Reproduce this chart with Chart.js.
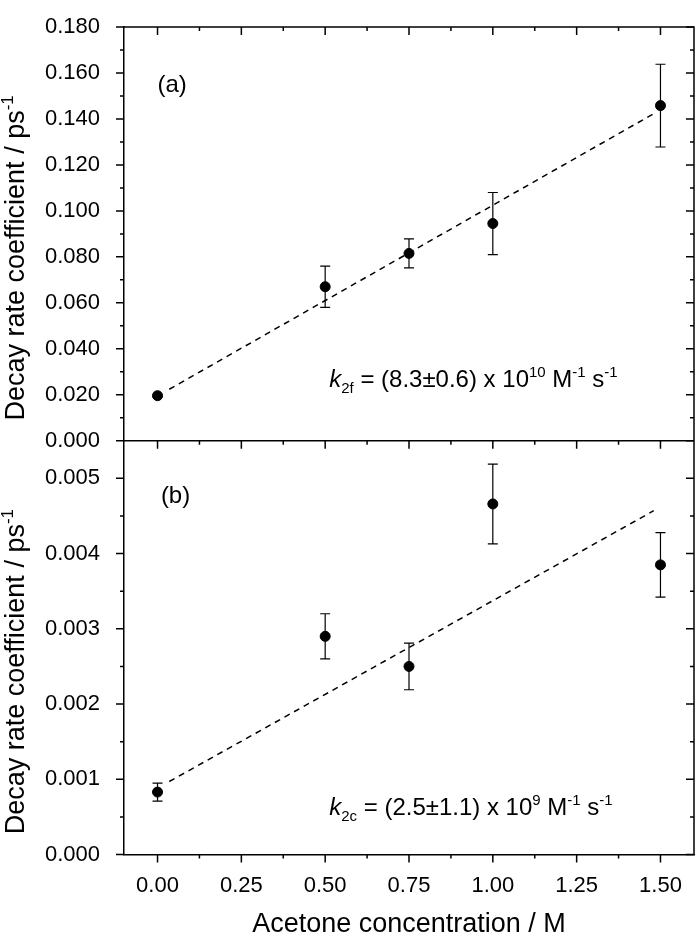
<!DOCTYPE html>
<html>
<head>
<meta charset="utf-8">
<script src="https://cdn.jsdelivr.net/npm/chart.js@4.4.1/dist/chart.umd.min.js"></script>
<style>
html, body { margin: 0; padding: 0; background: #fff; }
</style>
</head>
<body>
<canvas id="myChart" width="700" height="938"></canvas>
<script>
// acetone concentration / M
const conc = [0.00, 0.50, 0.75, 1.00, 1.50];
// panel (a): fast decay rate coefficient / ps-1
const rateA = [0.0196, 0.0670, 0.0815, 0.0945, 0.1458];
const errA  = [0.0004, 0.0090, 0.0063, 0.0135, 0.0180];
// panel (b): slow decay rate coefficient / ps-1
const rateB = [0.00083, 0.00290, 0.00250, 0.00466, 0.00385];
const errB  = [0.00012, 0.00030, 0.00031, 0.00053, 0.00043];
// linear fits (end points of the dashed lines)
const fitX = [0.035, 1.48];
const fitA = [0.0224, 0.1423];
const fitB = [0.00097, 0.00457];
// tick labels
const xTicks  = [0, 0.25, 0.5, 0.75, 1.0, 1.25, 1.5];
const yTicksA = [0, 0.02, 0.04, 0.06, 0.08, 0.10, 0.12, 0.14, 0.16, 0.18];
const yTicksB = [0, 0.001, 0.002, 0.003, 0.004, 0.005];

const FONT = "'Liberation Sans', Arial, sans-serif";
Chart.defaults.font.family = FONT;
Chart.defaults.color = '#000';

const pts = (xs, ys) => xs.map((x, i) => ({ x: x, y: ys[i] }));
const mids = arr => arr.slice(1).map((v, i) => (v + arr[i]) / 2);

// rich text: parts = [{t, sup, sub, it}]
function richText(c, parts, size, x, y, align) {
  const fontOf = p => (p.it ? 'italic ' : '') + Math.round(p.sup || p.sub ? size * 0.62 : size) + 'px ' + FONT;
  let w = 0;
  parts.forEach(p => { c.font = fontOf(p); w += c.measureText(p.t).width; });
  let cx = align === 'center' ? x - w / 2 : x;
  c.textAlign = 'left';
  c.textBaseline = 'alphabetic';
  parts.forEach(p => {
    c.font = fontOf(p);
    const dy = p.sup ? -size * 0.42 : (p.sub ? size * 0.25 : 0);
    c.fillText(p.t, cx, y + dy);
    cx += c.measureText(p.t).width;
  });
}

const axisFrame = {
  id: 'axisFrame',
  beforeDatasetsDraw(chart) { // error bars
    const c = chart.ctx, xs = chart.scales.x;
    c.save();
    c.strokeStyle = '#000';
    c.lineWidth = 1.2;
    chart.data.datasets.forEach(ds => {
      if (!ds.errs) return;
      const ys = chart.scales[ds.yAxisID];
      ds.data.forEach((p, i) => {
        const px = xs.getPixelForValue(p.x);
        const y1 = ys.getPixelForValue(p.y + ds.errs[i]);
        const y2 = ys.getPixelForValue(p.y - ds.errs[i]);
        c.beginPath();
        c.moveTo(px, y1); c.lineTo(px, y2);
        c.moveTo(px - 5, y1); c.lineTo(px + 5, y1);
        c.moveTo(px - 5, y2); c.lineTo(px + 5, y2);
        c.stroke();
      });
    });
    c.restore();
  },
  afterDraw(chart) {
    const c = chart.ctx, a = chart.chartArea;
    const xs = chart.scales.x, yA = chart.scales.yA, yB = chart.scales.yB;
    c.save();
    c.strokeStyle = '#000';
    c.lineWidth = 1.5;
    c.beginPath();
    c.moveTo(a.left, a.top); c.lineTo(a.right, a.top); c.lineTo(a.right, a.bottom);
    c.moveTo(a.left, yB.top); c.lineTo(a.right, yB.top);
    c.stroke();

    const seg = (x1, y1, x2, y2) => { c.moveTo(x1, y1); c.lineTo(x2, y2); };
    c.beginPath();
    const xt = (list, len) => list.forEach(v => {
      const px = xs.getPixelForValue(v);
      seg(px, a.top, px, a.top + len);
      seg(px, yB.top, px, yB.top + len);
      seg(px, a.bottom, px, a.bottom + len);
    });
    xt(xTicks, 8);
    xt(mids(xTicks), 4);
    const yt = (s, list, len) => list.forEach(v => {
      const py = s.getPixelForValue(v);
      seg(a.left - len, py, a.left, py);
      seg(a.right - len, py, a.right, py);
    });
    yt(yA, yTicksA, 8);
    yt(yA, mids(yTicksA).concat([0.17]), 4);
    yt(yB, yTicksB, 8);
    yt(yB, mids(yTicksB), 4);
    c.stroke();

    c.fillStyle = '#000';
    // y axis titles
    [yA, yB].forEach(s => {
      c.save();
      c.translate(24, (s.top + s.bottom) / 2 + 24);
      c.rotate(-Math.PI / 2);
      richText(c, [{ t: 'Decay rate coefficient / ps' }, { t: '-1', sup: true }], 27, 0, 0, 'center');
      c.restore();
    });
    // x axis title
    richText(c, [{ t: 'Acetone concentration / M' }], 27, (a.left + a.right) / 2, 932, 'center');
    // panel labels
    richText(c, [{ t: '(a)' }], 24, xs.getPixelForValue(0), yA.getPixelForValue(0.1517), 'left');
    richText(c, [{ t: '(b)' }], 24, xs.getPixelForValue(0.01), yB.getPixelForValue(0.00467), 'left');
    // fit results
    richText(c, [{ t: 'k', it: true }, { t: '2f', sub: true }, { t: ' = (8.3\u00b10.6) x 10' }, { t: '10', sup: true },
      { t: ' M' }, { t: '-1', sup: true }, { t: ' s' }, { t: '-1', sup: true }],
      24, xs.getPixelForValue(0.512), yA.getPixelForValue(0.0235), 'left');
    richText(c, [{ t: 'k', it: true }, { t: '2c', sub: true }, { t: ' = (2.5\u00b11.1) x 10' }, { t: '9', sup: true },
      { t: ' M' }, { t: '-1', sup: true }, { t: ' s' }, { t: '-1', sup: true }],
      24, xs.getPixelForValue(0.512), yB.getPixelForValue(0.00052), 'left');
    c.restore();
  }
};

const yScale = (ticks, max, digits) => ({
  type: 'linear',
  position: 'left',
  stack: 'panels',
  stackWeight: 1,
  min: 0,
  max: max,
  afterBuildTicks: s => { s.ticks = ticks.map(v => ({ value: v })); },
  afterFit: s => { s.width = 124; },
  ticks: { callback: v => Number(v).toFixed(digits), font: { size: 22, lineHeight: 1 }, padding: 16 },
  grid: { display: false },
  border: { display: true, color: '#000', width: 1.5 }
});

var ctx = document.getElementById('myChart').getContext('2d');
var myChart = new Chart(ctx, {
  type: 'scatter',
  data: {
    datasets: [
      { label: 'a', data: pts(conc, rateA), errs: errA, yAxisID: 'yA', pointRadius: 5, pointHoverRadius: 5,
        backgroundColor: '#000', borderColor: '#000' },
      { label: 'a fit', data: pts(fitX, fitA), yAxisID: 'yA', showLine: true, pointRadius: 0,
        borderColor: '#000', borderWidth: 1.5, borderDash: [6, 5] },
      { label: 'b', data: pts(conc, rateB), errs: errB, yAxisID: 'yB', pointRadius: 5, pointHoverRadius: 5,
        backgroundColor: '#000', borderColor: '#000' },
      { label: 'b fit', data: pts(fitX, fitB), yAxisID: 'yB', showLine: true, pointRadius: 0,
        borderColor: '#000', borderWidth: 1.5, borderDash: [6, 5] }
    ]
  },
  options: {
    responsive: false,
    animation: false,
    layout: { padding: { top: 12, right: 2, left: 0, bottom: 0 } },
    plugins: { legend: { display: false }, tooltip: { enabled: false } },
    scales: {
      x: {
        type: 'linear',
        min: -0.1,
        max: 1.6,
        afterBuildTicks: s => { s.ticks = xTicks.map(v => ({ value: v })); },
        afterFit: s => { s.height = 83.5; },
        ticks: { callback: v => Number(v).toFixed(2), font: { size: 22 }, padding: 10, maxRotation: 0, autoSkip: false },
        grid: { display: false },
        border: { display: true, color: '#000', width: 1.5 }
      },
      yB: yScale(yTicksB, 0.0055, 3),
      yA: yScale(yTicksA, 0.18, 3)
    }
  },
  plugins: [axisFrame]
});
</script>
</body>
</html>
